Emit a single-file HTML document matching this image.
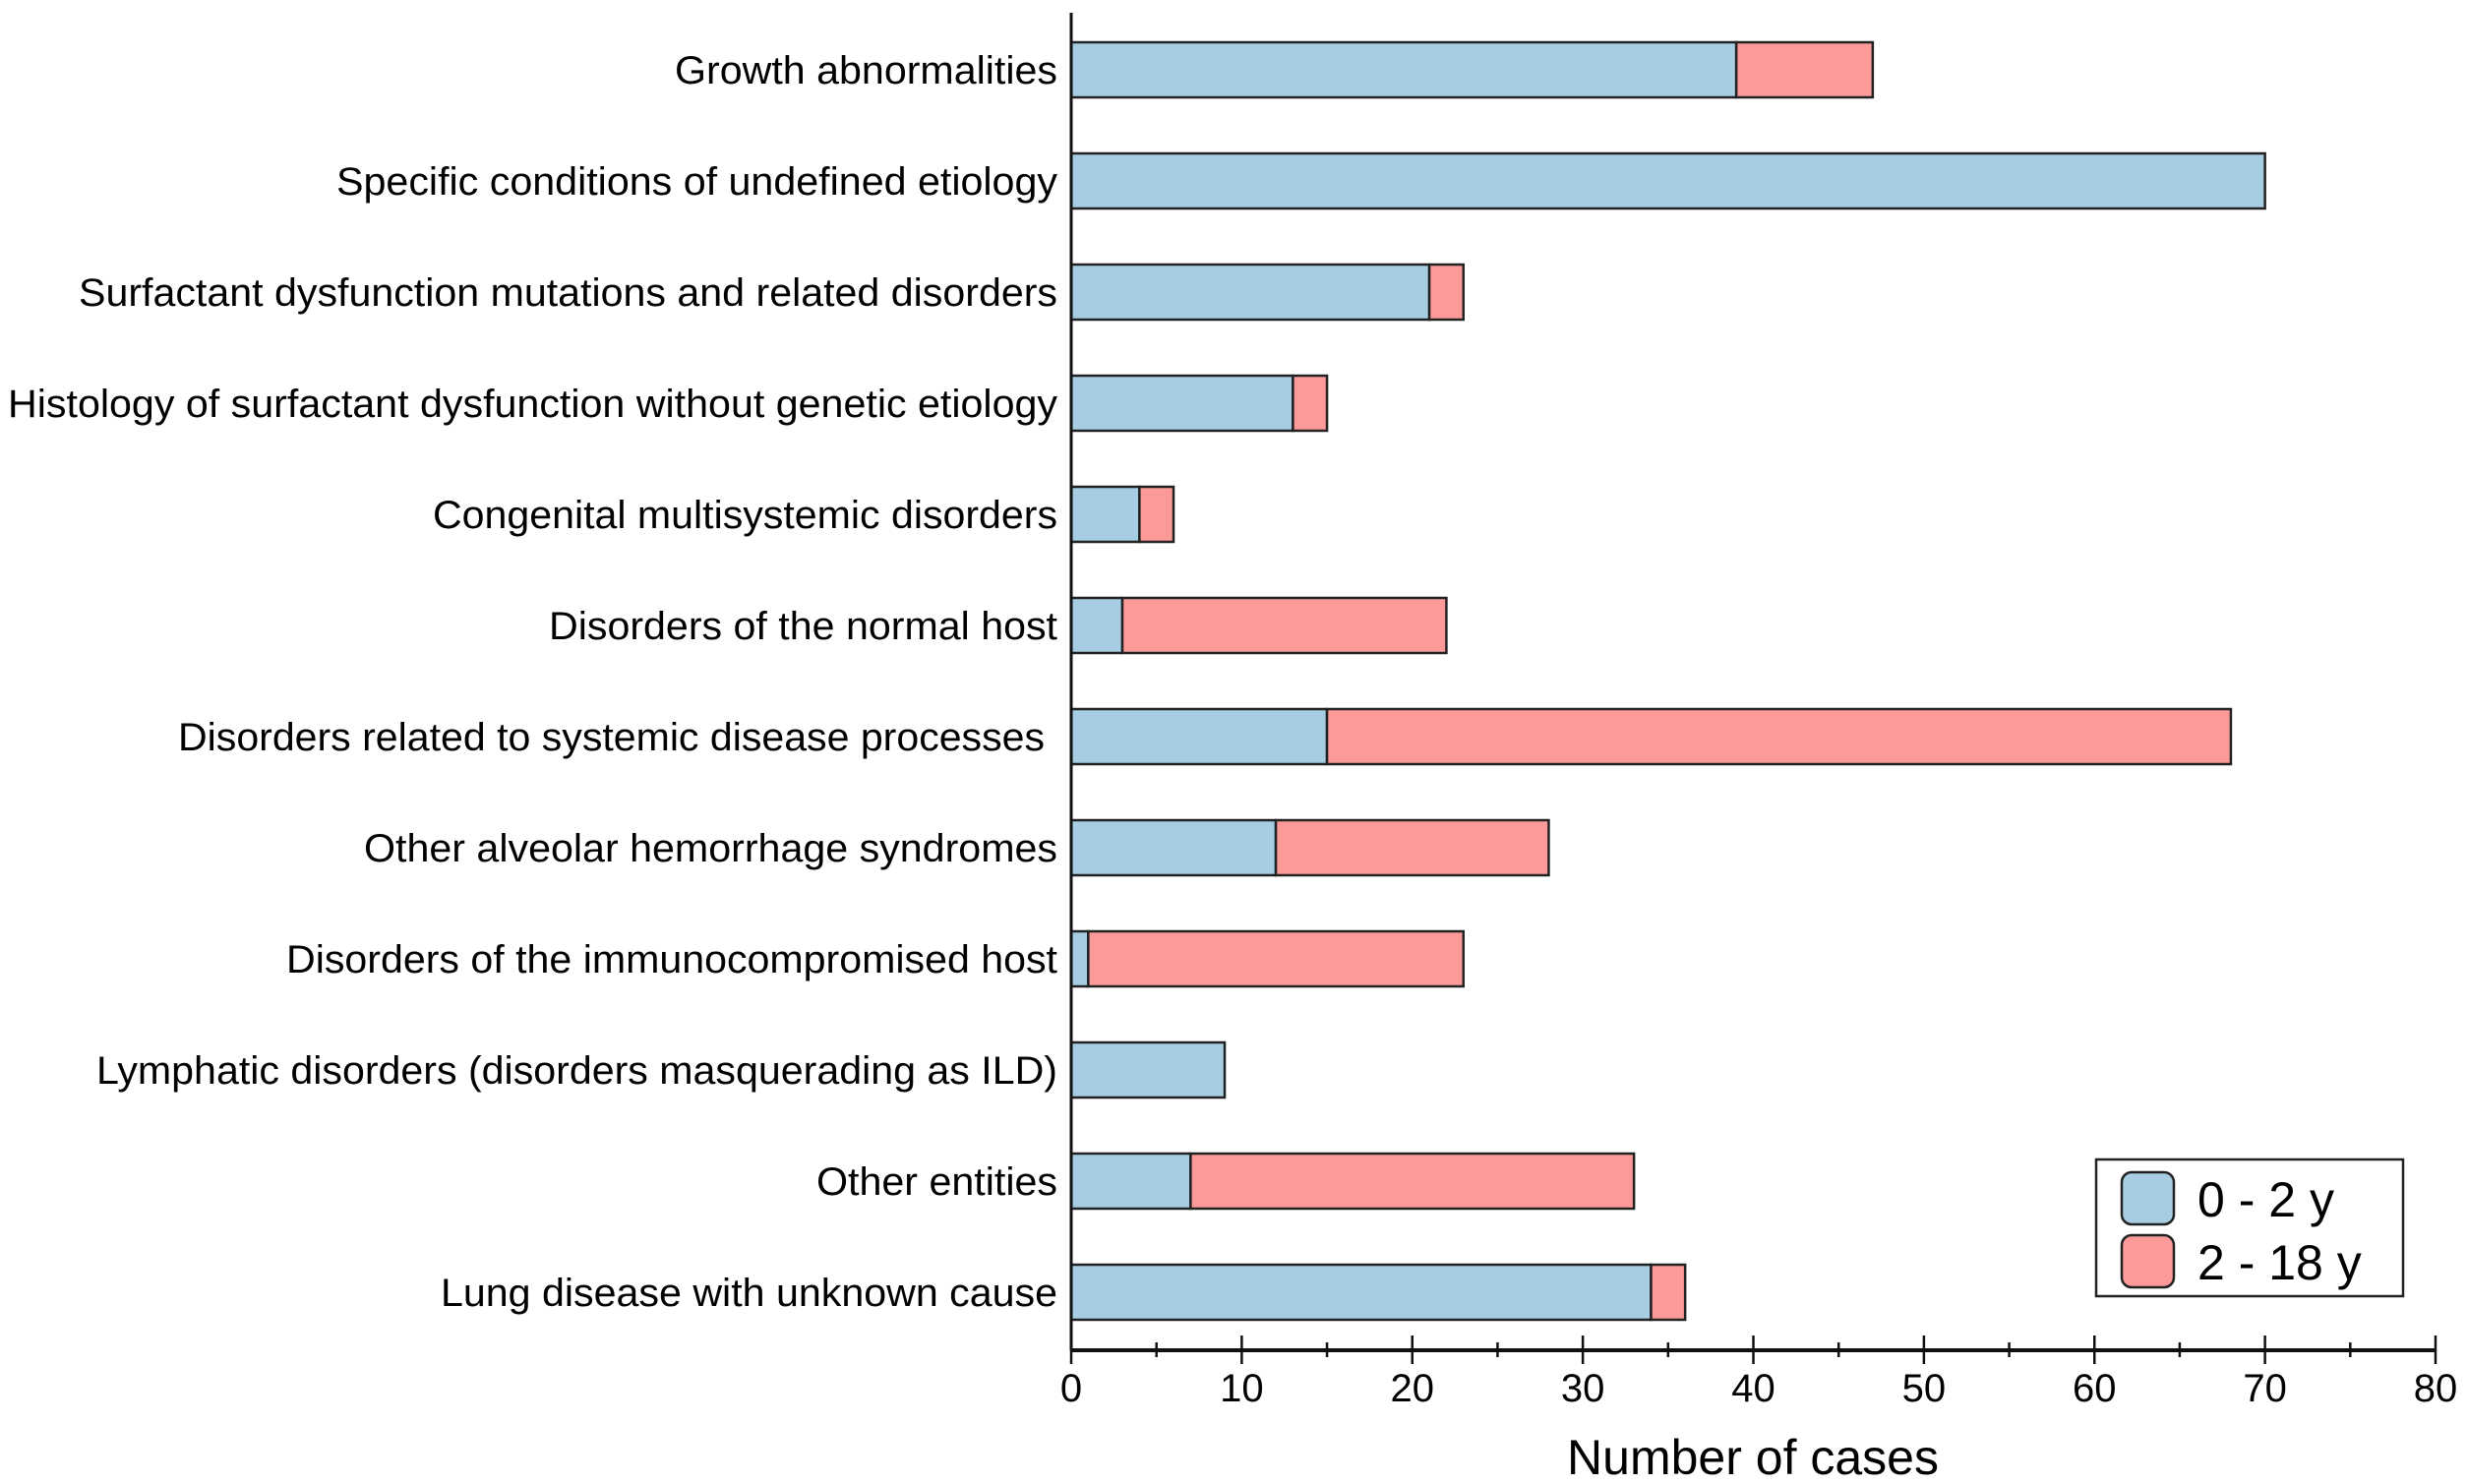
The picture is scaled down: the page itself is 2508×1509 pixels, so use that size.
<!DOCTYPE html>
<html><head><meta charset="utf-8"><style>body{margin:0;background:#fff}svg{display:block}</style></head>
<body>
<svg id="chart" width="2508" height="1509" viewBox="0 0 2508 1509" xmlns="http://www.w3.org/2000/svg" font-family="'Liberation Sans', sans-serif">
</svg>
<script>
const categories = ["Growth abnormalities","Specific conditions of undefined etiology","Surfactant dysfunction mutations and related disorders","Histology of surfactant dysfunction without genetic etiology","Congenital multisystemic disorders","Disorders of the normal host","Disorders related to systemic disease processes","Other alveolar hemorrhage syndromes","Disorders of the immunocompromised host","Lymphatic disorders (disorders masquerading as ILD)","Other entities","Lung disease with unknown cause"];
const infant = [39,70,21,13,4,3,15,12,1,9,7,34];
const older = [8,0,2,2,2,19,53,16,22,0,26,2];
const tickLabels = ["0","10","20","30","40","50","60","70","80"];
const labelLeft = [686,342,80,8,440,558,181,370,291,98,830,448];

const NS="http://www.w3.org/2000/svg";
const svg=document.getElementById('chart');
const X0=1089,X1=2476,XMAX=80,AXY=1373;
const x=v=>X0+(X1-X0)*v/XMAX;
const yc=i=>71+113*i;
const BH=56;
function mk(t,a){const e=document.createElementNS(NS,t);for(const k in a)e.setAttribute(k,a[k]);svg.appendChild(e);return e;}

categories.forEach((c,i)=>{
  const t=mk('text',{x:1075,y:yc(i)+14,'text-anchor':'end','font-size':40,fill:'#000',textLength:1075-labelLeft[i]-(i==6?13:0),lengthAdjust:'spacingAndGlyphs'});
  if(i==6)t.setAttribute('x',1062);
  t.textContent=c;
  
  
  const b=mk('rect',{x:x(0),y:yc(i)-BH/2,width:x(infant[i])-x(0),height:BH,fill:'#a6cde2',stroke:'#222','stroke-width':2.5});
  
  
  if(older[i]>0){
    const r=mk('rect',{x:x(infant[i]),y:yc(i)-BH/2,width:x(infant[i]+older[i])-x(infant[i]),height:BH,fill:'#fb9a99',stroke:'#222','stroke-width':2.5});
    
    
  }
});
const ya=mk('line',{x1:X0,y1:13,x2:X0,y2:AXY,stroke:'#111','stroke-width':3});


const xa=mk('line',{x1:X0,y1:AXY,x2:X1,y2:AXY,stroke:'#111','stroke-width':4});


for(let v=0;v<=XMAX;v+=5){
  const major=v%10===0;
  mk('line',{x1:x(v),x2:x(v),y1:major?1358:1365,y2:major?1387:1380,stroke:'#111','stroke-width':2.5});
}
tickLabels.forEach(l=>{
  const t=mk('text',{x:x(+l),y:1425,'text-anchor':'middle','font-size':40,fill:'#000'});
  t.textContent=l;
  
  
});
const tt=mk('text',{x:1782,y:1499,'text-anchor':'middle','font-size':50,fill:'#000'});
tt.textContent='Number of cases';



const lg=mk('rect',{x:2131,y:1179,width:312,height:139,fill:'#fff',stroke:'#222','stroke-width':2.5});


[['#a6cde2','0 - 2 y',1192],['#fb9a99','2 - 18 y',1256]].forEach(([c,l,yy])=>{
  const s=mk('rect',{x:2157,y:yy,width:53,height:53,rx:10,fill:c,stroke:'#222','stroke-width':2.5});
  
  
  const t=mk('text',{x:2234,y:yy+45,'font-size':50,fill:'#000'});
  t.textContent=l;
  
  
});
</script>
</body></html>
